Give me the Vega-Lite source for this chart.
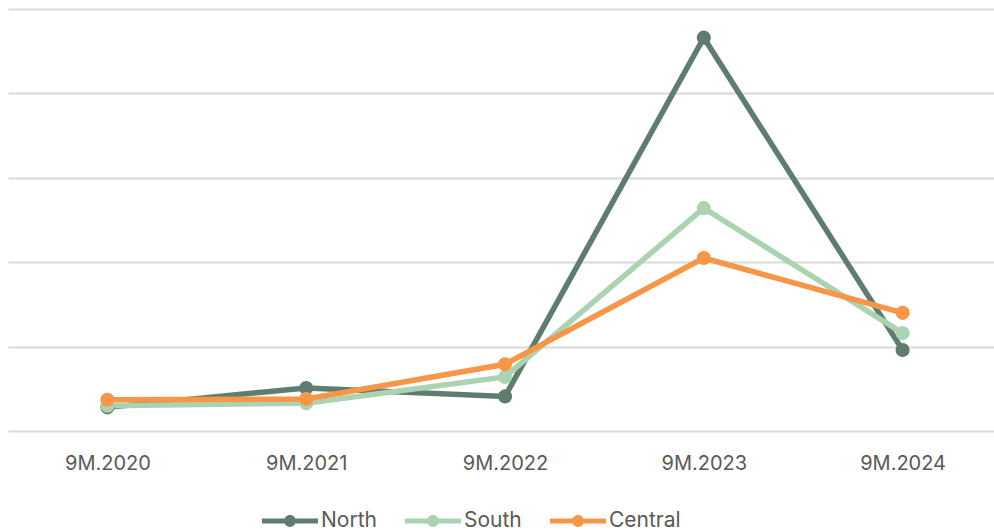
{
  "$schema": "https://vega.github.io/schema/vega-lite/v6.json",
  "width": 994,
  "height": 422,
  "autosize": {"type": "none"},
  "padding": {"left": 8, "top": 9, "right": 0, "bottom": 99},
  "background": "white",
  "config": {"view": {"stroke": null}, "font": "Inter"},
  "data": {
    "values": [
      {"period": "9M.2020", "region": "North", "value": 28},
      {"period": "9M.2021", "region": "North", "value": 51},
      {"period": "9M.2022", "region": "North", "value": 41},
      {"period": "9M.2023", "region": "North", "value": 466},
      {"period": "9M.2024", "region": "North", "value": 96},
      {"period": "9M.2020", "region": "South", "value": 30},
      {"period": "9M.2021", "region": "South", "value": 33},
      {"period": "9M.2022", "region": "South", "value": 64},
      {"period": "9M.2023", "region": "South", "value": 264},
      {"period": "9M.2024", "region": "South", "value": 116},
      {"period": "9M.2020", "region": "Central", "value": 37},
      {"period": "9M.2021", "region": "Central", "value": 38},
      {"period": "9M.2022", "region": "Central", "value": 79},
      {"period": "9M.2023", "region": "Central", "value": 205},
      {"period": "9M.2024", "region": "Central", "value": 140}
    ]
  },
  "encoding": {
    "x": {
      "field": "period",
      "type": "ordinal",
      "title": null,
      "scale": {"type": "point", "padding": 0.5},
      "axis": {
        "domain": false,
        "ticks": false,
        "labelAngle": 0,
        "labelFontSize": 20,
        "labelColor": "#595959",
        "labelPadding": 22,
        "grid": false
      }
    },
    "y": {
      "field": "value",
      "type": "quantitative",
      "title": null,
      "scale": {"domain": [0, 500], "nice": false},
      "axis": {
        "values": [0, 100, 200, 300, 400, 500],
        "labels": false,
        "ticks": false,
        "domain": false,
        "grid": true,
        "gridColor": "#d9d9d9",
        "gridWidth": 2
      }
    },
    "color": {
      "field": "region",
      "type": "nominal",
      "sort": ["North", "South", "Central"],
      "scale": {
        "domain": ["North", "South", "Central"],
        "range": ["#5f7d6e", "#abd3b2", "#f79646"]
      },
      "legend": {
        "title": null,
        "orient": "none",
        "direction": "horizontal",
        "legendX": 254,
        "legendY": 484,
        "symbolType": "M-1,-0.09L1,-0.09L1,0.09L-1,0.09Z M-0.21,0A0.21,0.21 0 1,1 0.21,0A0.21,0.21 0 1,1 -0.21,0Z",
        "symbolSize": 3136,
        "symbolStrokeWidth": 0,
        "labelFontSize": 21,
        "labelColor": "#595959",
        "labelOffset": 3,
        "columnPadding": 28,
        "encode": {
          "symbols": {
            "update": {
              "fill": {"scale": "color", "field": "value"},
              "opacity": {"value": 1}
            }
          }
        }
      }
    }
  },
  "layer": [
    {"mark": {"type": "line", "strokeWidth": 5.5}},
    {"mark": {"type": "point", "filled": true, "size": 200, "opacity": 1}}
  ]
}
